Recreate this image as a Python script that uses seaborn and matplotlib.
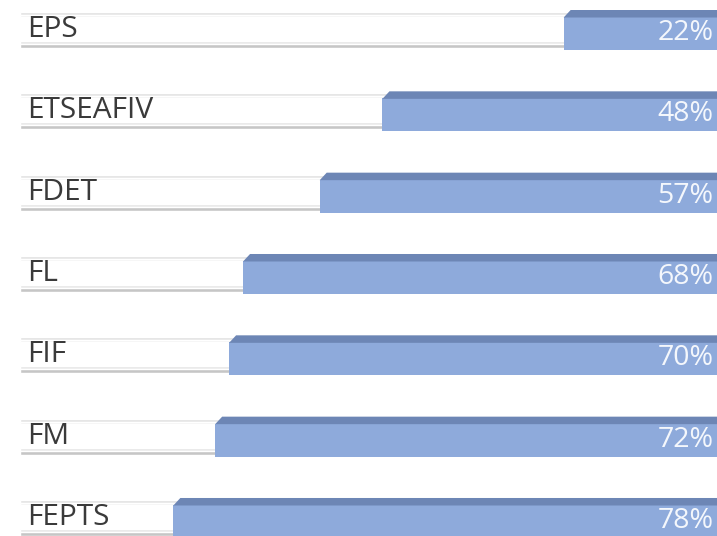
import matplotlib
matplotlib.use("Agg")
import matplotlib.pyplot as plt
from matplotlib.patches import Polygon
import seaborn as sns
import pandas as pd
import numpy as np

categories = ["EPS", "ETSEAFIV", "FDET", "FL", "FIF", "FM", "FEPTS"]
values = [22, 48, 57, 68, 70, 72, 78]
value_labels = ["22%", "48%", "57%", "68%", "70%", "72%", "78%"]
full_scale = 100

sns.set_theme(style="white")
plt.rcParams["font.family"] = ["Open Sans", "DejaVu Sans"]

W, H = 717, 536
fig = plt.figure(figsize=(W / 100, H / 100), dpi=100)
ax = fig.add_axes([20 / W, 0, 697 / W, 1])

px = 81.3  # row pitch in pixels -> 1 data unit
def py(p):
    return p / px

df = pd.DataFrame({"cat": categories, "val": values})
pos = np.arange(len(categories))

# background track (white with grey edges)
bg_h = py(36)
ax.barh(pos, [full_scale] * len(pos), height=bg_h, color="white", zorder=1)
ax.barh(pos - bg_h / 2 + py(1.5), [full_scale] * len(pos), height=py(3),
        color="#e1e1e1", zorder=2)
ax.barh(pos - bg_h / 2 + py(4), [full_scale] * len(pos), height=py(2),
        color="#f1f1f1", zorder=2)
ax.barh(pos + bg_h / 2 - py(5.5), [full_scale] * len(pos), height=py(3),
        color="#e6e6e6", zorder=2)
ax.barh(pos + bg_h / 2 - py(2), [full_scale] * len(pos), height=py(4),
        color="#c6c6c6", zorder=2)

# main blue bars via seaborn
main_h = py(33)
sns.barplot(data=df, x="val", y="cat", orient="h", color="#8eaadb",
            saturation=1, width=main_h, ax=ax, zorder=3)
for patch in ax.patches[-len(pos):]:
    patch.set_y(patch.get_y() + py(3.5))
    patch.set_edgecolor("none")

# darker bevelled top strip
for i, v in enumerate(values):
    y_bot = i - py(20) + py(7.5)
    y_top = i - py(20)
    bevel = 7 / 6.97
    poly = Polygon([(v, y_bot), (v - bevel, y_top), (0, y_top), (0, y_bot)],
                   closed=True, facecolor="#6d86b5", edgecolor="none", zorder=3)
    ax.add_patch(poly)

for i, (c, lab) in enumerate(zip(categories, value_labels)):
    ax.text(99.0, i + py(7), c, ha="left", va="baseline", fontsize=21.5,
            color="#3a3a3a", zorder=4)
    ax.text(0.5, i + py(10), lab, ha="right", va="baseline", fontsize=20.5,
            color="#f4f7fc", zorder=4)

ax.set_xlim(full_scale, 0)
ax.set_ylim(len(pos) - 1 + py(536 - 518), -py(30))
ax.set_axis_off()

fig.savefig("out.png", dpi=100, facecolor="white")
